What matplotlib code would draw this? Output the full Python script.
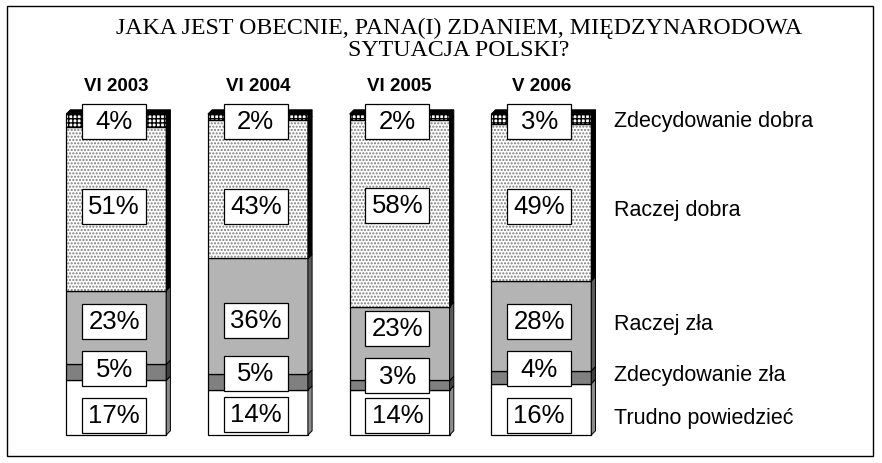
import matplotlib.pyplot as plt
from matplotlib.patches import Rectangle, Polygon

waves = ['VI 2003', 'VI 2004', 'VI 2005', 'V 2006']
answers = ['Trudno powiedzieć', 'Zdecydowanie zła', 'Raczej zła',
           'Raczej dobra', 'Zdecydowanie dobra']

# percentages, listed from the bottom of the bar up
trudno = [17, 14, 14, 16]
zdec_zla = [5, 5, 3, 4]
raczej_zla = [23, 36, 23, 28]
raczej_dobra = [51, 43, 58, 49]
zdec_dobra = [4, 2, 2, 3]
series = [trudno, zdec_zla, raczej_zla, raczej_dobra, zdec_dobra]

# label box heights (percent from the bottom), one row per wave
label_y = [[6.2, 20.6, 35.5, 71.3, 97.8],
           [6.5, 19.2, 35.8, 71.3, 97.8],
           [6.2, 18.5, 33.3, 71.5, 97.8],
           [6.2, 20.6, 35.5, 71.3, 97.8]]
legend_y = [5.6, 19.0, 34.6, 70.4, 97.9]

front = ['white', '#808080', '#b4b4b4', 'white', 'white']
side = ['#8c8c8c', '#404040', '#5c5c5c', 'black', 'black']
hatch = [None, None, None, '.....', '++++']
hatch_col = [None, None, None, '#7a7a7a', 'black']

W, H = 882, 464
fig = plt.figure(figsize=(W / 100, H / 100), dpi=100)
ax = fig.add_axes([0, 28 / H, 1, 321 / H])
step = 141.7  # px between bars
ax.set_xlim(-116.2 / step, (W - 116.2) / step)
ax.set_ylim(0, 100)
ax.axis('off')

width = 100 / step
dx, dy = 4.2 / step, 4.2 / 3.21
x = list(range(len(waves)))

bottom = [0] * len(waves)
for k, vals in enumerate(series):
    if hatch[k]:
        ax.bar(x, vals, width, bottom=bottom, color=front[k], edgecolor=hatch_col[k],
               hatch=hatch[k], linewidth=0, clip_on=False)
    else:
        ax.bar(x, vals, width, bottom=bottom, color=front[k], linewidth=0, clip_on=False)
    ax.bar(x, vals, width, bottom=bottom, fill=False, edgecolor='black',
           linewidth=0.9, clip_on=False)
    for i in x:
        r = i + width / 2
        y0, y1 = bottom[i], bottom[i] + vals[i]
        ax.add_patch(Polygon([(r, y0), (r + dx, y0 + dy), (r + dx, y1 + dy), (r, y1)],
                             closed=True, facecolor=side[k], edgecolor='black',
                             linewidth=0.7, clip_on=False))
    bottom = [b + v for b, v in zip(bottom, vals)]

# black top faces
for i in x:
    l, r = i - width / 2, i + width / 2
    ax.add_patch(Polygon([(l, 100), (r, 100), (r + dx, 100 + dy), (l + dx, 100 + dy)],
                         closed=True, facecolor='black', edgecolor='black',
                         linewidth=0.7, clip_on=False))

# value boxes
bw, bh = 64 / step, 35 / 3.21
for i in x:
    cx = i - 0.015
    for k, vals in enumerate(series):
        yc = label_y[i][k]
        ax.add_patch(Rectangle((cx - bw / 2, yc - bh / 2), bw, bh, facecolor='white',
                               edgecolor='black', linewidth=0.9, clip_on=False, zorder=5))
        ax.text(cx, yc, f'{vals[i]}%', ha='center', va='center', fontsize=18.5,
                family='Liberation Sans', zorder=6)
    ax.text(i, 109, waves[i], ha='center', va='center', fontsize=13.5,
            fontweight='bold', family='Liberation Sans')

for k, name in enumerate(answers):
    ax.text((614 - 116.2) / step, legend_y[k], name, ha='left', va='center',
            fontsize=15.5, family='Liberation Sans')

fig.text(459 / W, 1 - 28 / H, 'JAKA JEST OBECNIE, PANA(I) ZDANIEM, MIĘDZYNARODOWA',
         ha='center', va='center', fontsize=17.2, family='Liberation Serif')
fig.text(459 / W, 1 - 50 / H, 'SYTUACJA POLSKI?', ha='center', va='center',
         fontsize=17.2, family='Liberation Serif')

fig.patches.append(Rectangle((7 / W, 7 / H), 866 / W, 450 / H, transform=fig.transFigure,
                             fill=False, edgecolor='black', linewidth=1))

fig.savefig('out.png', dpi=100)
